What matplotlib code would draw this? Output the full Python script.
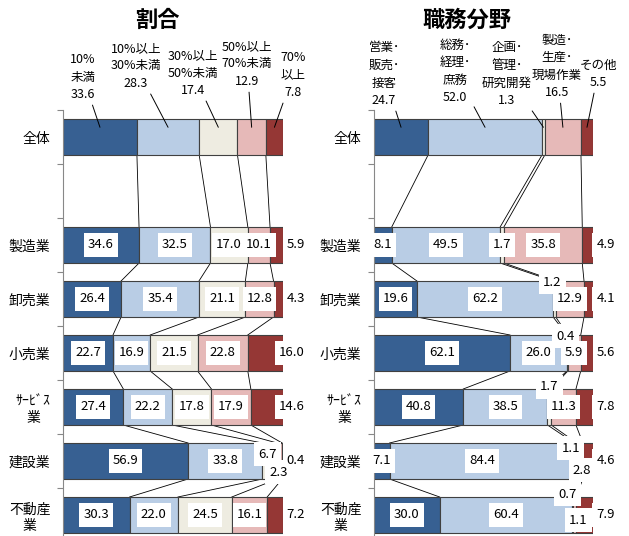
import numpy as np
import matplotlib.pyplot as plt

plt.rcParams['font.family'] = ['Noto Sans CJK JP', 'DejaVu Sans']

# 行（空白行を1つはさむ）
categories = ['全体', '', '製造業', '卸売業', '小売業', 'ｻｰﾋﾞｽ\n業', '建設業', '不動産\n業']
row_pos = [0, 2, 3, 4, 5, 6, 7]

colors = ['#376092', '#B9CDE5', '#EEECE1', '#E6B9B8', '#953735']

# 割合
ratio_names = ['10%\n未満', '10%以上\n30%未満', '30%以上\n50%未満', '50%以上\n70%未満', '70%\n以上']
ratio_values = np.array([
    [33.6, 28.3, 17.4, 12.9, 7.8],
    [34.6, 32.5, 17.0, 10.1, 5.9],
    [26.4, 35.4, 21.1, 12.8, 4.3],
    [22.7, 16.9, 21.5, 22.8, 16.0],
    [27.4, 22.2, 17.8, 17.9, 14.6],
    [56.9, 33.8, 6.7, 2.3, 0.4],
    [30.3, 22.0, 24.5, 16.1, 7.2],
])

# 職務分野
job_names = ['営業･\n販売･\n接客', '総務･\n経理･\n庶務', '企画･\n管理･\n研究開発', '製造･\n生産･\n現場作業', 'その他']
job_values = np.array([
    [24.7, 52.0, 1.3, 16.5, 5.5],
    [8.1, 49.5, 1.7, 35.8, 4.9],
    [19.6, 62.2, 1.2, 12.9, 4.1],
    [62.1, 26.0, 0.4, 5.9, 5.6],
    [40.8, 38.5, 1.7, 11.3, 7.8],
    [7.1, 84.4, 1.1, 2.8, 4.6],
    [30.0, 60.4, 0.7, 1.1, 7.9],
])

# 全体の見出しラベル位置（図のピクセル: x中心, 下端y）
ratio_head_pos = [(83, 101), (136, 90), (193, 97), (247, 88), (293, 99)]
job_head_pos = [(384, 107), (455, 104), (507, 107), (557, 99), (598, 89)]

# 小さい値のラベルのずらし (行, 系列) -> (dx, dy) ピクセル
ratio_nudge = {(5, 2): (-2, 7), (5, 3): (-1, -11)}
job_nudge = {(2, 2): (-2, 17), (3, 2): (-2, 17), (4, 2): (0, 20),
             (5, 2): (-5, 13), (5, 3): (2, -9), (6, 2): (-5, 21), (6, 3): (4, -5)}

W, H = 629, 536
fig = plt.figure(figsize=(W / 100, H / 100), dpi=100)
BAR_H = 0.667
box = dict(boxstyle='square,pad=0.3', fc='white', ec='none', mutation_aspect=1.5)


def label(ax, s, xy, offset=(0, 0), ha='center'):
    # 白い箱を先に全部描き、文字はその上に描く
    kw = dict(xy=xy, xytext=offset, textcoords='offset pixels', ha=ha, va='center',
              fontsize=9.5, annotation_clip=False)
    ax.annotate(s, color='none', bbox=box, zorder=4, **kw)
    ax.annotate(s, color='black', zorder=6, **kw)


def draw_panel(ax, values, names, head_pos, nudge, title, title_x):
    pct = values / values.sum(axis=1, keepdims=True) * 100
    cum = np.hstack([np.zeros((len(pct), 1)), np.cumsum(pct, axis=1)])

    for j in range(pct.shape[1]):
        ax.barh(row_pos, pct[:, j], left=cum[:, j], height=BAR_H, color=colors[j],
                edgecolor='#404040', linewidth=0.8, zorder=2)

    # 区分線
    for i in range(len(row_pos) - 1):
        yu, yl = row_pos[i], row_pos[i + 1]
        for k in range(1, cum.shape[1]):
            ax.plot([cum[i, k], cum[i + 1, k]], [yu + BAR_H / 2, yl - BAR_H / 2],
                    color='black', lw=0.6, zorder=1)

    # 全体: 上に見出し付きラベル
    for j in range(pct.shape[1]):
        cx = (cum[0, j] + cum[0, j + 1]) / 2
        hx, hy = head_pos[j]
        ax.annotate(f'{names[j]}\n{values[0, j]:.1f}', xy=(cx, row_pos[0] - 0.18),
                    xytext=(hx, H - hy), textcoords='figure pixels',
                    ha='center', va='bottom', fontsize=9, linespacing=1.45,
                    arrowprops=dict(arrowstyle='-', color='black', lw=0.7,
                                    shrinkA=1, shrinkB=0), zorder=5)

    # 各業種
    for i in range(1, len(row_pos)):
        y = row_pos[i]
        for j in range(pct.shape[1] - 1):
            cx = (cum[i, j] + cum[i, j + 1]) / 2
            label(ax, f'{values[i, j]:.1f}', (cx, y), nudge.get((i, j), (0, 0)))
        label(ax, f'{values[i, -1]:.1f}', (110, y), ha='right')

    ax.set_xlim(0, 100)
    ax.set_ylim(7.5, -0.5)
    ax.set_yticks(range(len(categories)))
    ax.set_yticklabels(categories, fontsize=10, multialignment='center')
    ax.set_yticks(np.arange(-0.5, 8, 1), minor=True)
    ax.tick_params(axis='y', which='major', length=0, pad=9)
    ax.tick_params(axis='y', which='minor', length=4, width=0.8, color='#888888')
    ax.set_xticks([])
    for s in ['top', 'right', 'bottom']:
        ax.spines[s].set_visible(False)
    ax.spines['left'].set_color('#888888')
    fig.text(title_x / W, 1 - 20 / H, title, ha='center', va='center',
             fontsize=16, fontweight='bold')


ax1 = fig.add_axes([63 / W, -6 / H, 220 / W, 432 / H])
ax2 = fig.add_axes([374 / W, -6 / H, 219 / W, 432 / H])
draw_panel(ax1, ratio_values, ratio_names, ratio_head_pos, ratio_nudge, '割合', 157)
draw_panel(ax2, job_values, job_names, job_head_pos, job_nudge, '職務分野', 467)

plt.savefig('out.png', dpi=100)
